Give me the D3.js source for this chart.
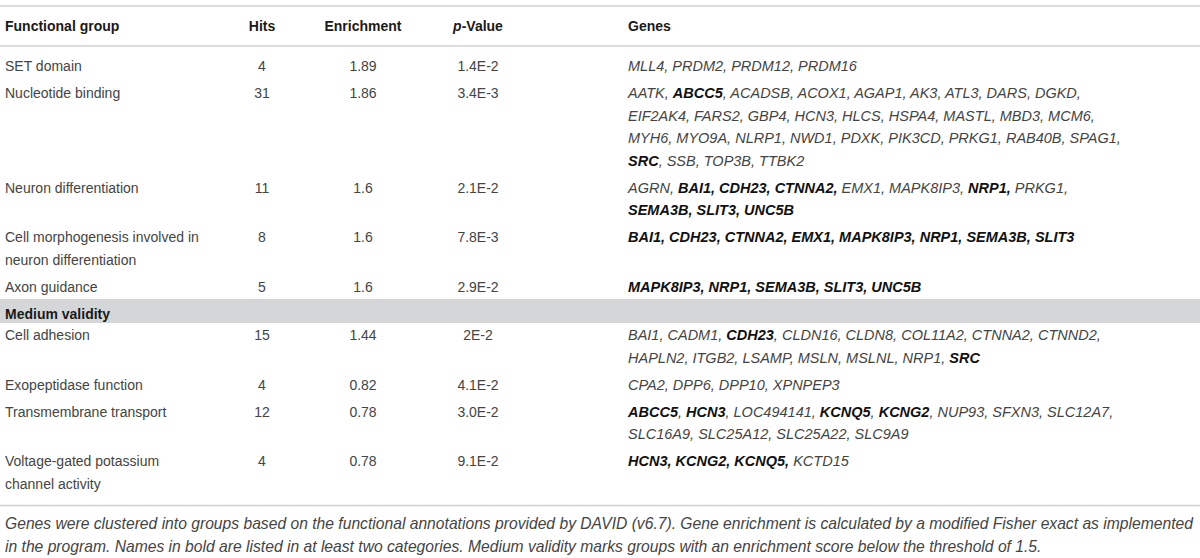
<!DOCTYPE html>
<html>
    <head>
        <meta charset="utf-8">
        <script src="https://d3js.org/d3.v7.min.js"></script>
        <style>
            body { margin: 0; background: #fff; }
            text { font-family: "Liberation Sans", Arial, Helvetica, sans-serif; font-size: 14px; }
        </style>
    </head>
    <body>
        <div id="table"></div>
        <script>
            // table content
            const headers = ["Functional group", "Hits", "Enrichment", "p-Value", "Genes"]

            const groups = [
                ["SET domain"],
                ["Nucleotide binding"],
                ["Neuron differentiation"],
                ["Cell morphogenesis involved in", "neuron differentiation"],
                ["Axon guidance"],
                ["Cell adhesion"],
                ["Exopeptidase function"],
                ["Transmembrane transport"],
                ["Voltage-gated potassium", "channel activity"]
            ]
            const hits = [4, 31, 11, 8, 5, 15, 4, 12, 4]
            const enrichment = ["1.89", "1.86", "1.6", "1.6", "1.6", "1.44", "0.82", "0.78", "0.78"]
            const pValues = ["1.4E-2", "3.4E-3", "2.1E-2", "7.8E-3", "2.9E-2", "2E-2", "4.1E-2", "3.0E-2", "9.1E-2"]

            // *...* marks bold gene names (listed in at least two categories)
            const genes = [
                ["MLL4, PRDM2, PRDM12, PRDM16"],
                ["AATK, *ABCC5*, ACADSB, ACOX1, AGAP1, AK3, ATL3, DARS, DGKD,",
                 "EIF2AK4, FARS2, GBP4, HCN3, HLCS, HSPA4, MASTL, MBD3, MCM6,",
                 "MYH6, MYO9A, NLRP1, NWD1, PDXK, PIK3CD, PRKG1, RAB40B, SPAG1,",
                 "*SRC*, SSB, TOP3B, TTBK2"],
                ["AGRN, *BAI1, CDH23, CTNNA2,* EMX1, MAPK8IP3, *NRP1,* PRKG1,",
                 "*SEMA3B, SLIT3, UNC5B*"],
                ["*BAI1, CDH23, CTNNA2, EMX1, MAPK8IP3, NRP1, SEMA3B, SLIT3*"],
                ["*MAPK8IP3, NRP1, SEMA3B, SLIT3, UNC5B*"],
                ["BAI1, CADM1, *CDH23*, CLDN16, CLDN8, COL11A2, CTNNA2, CTNND2,",
                 "HAPLN2, ITGB2, LSAMP, MSLN, MSLNL, NRP1, *SRC*"],
                ["CPA2, DPP6, DPP10, XPNPEP3"],
                ["*ABCC5*, *HCN3*, LOC494141, *KCNQ5*, *KCNG2*, NUP93, SFXN3, SLC12A7,",
                 "SLC16A9, SLC25A12, SLC25A22, SLC9A9"],
                ["*HCN3, KCNG2, KCNQ5,* KCTD15"]
            ]

            const sectionLabel = "Medium validity"
            const sectionBefore = 5   // section band sits above this row

            const footnote = [
                "Genes were clustered into groups based on the functional annotations provided by DAVID (v6.7). Gene enrichment is calculated by a modified Fisher exact as implemented",
                "in the program. Names in bold are listed in at least two categories. Medium validity marks groups with an enrichment score below the threshold of 1.5."
            ]

            // layout
            width = 1200
            height = 558
            lineH = 22.5
            rowExtra = 27
            bandGap = 21.5
            colX = [5, 262, 363, 478, 628]
            colAnchor = ["start", "middle", "middle", "middle", "start"]
            textColor = "#444"

            const svg = d3.select("#table")
                .append("svg")
                .attr("width", width)
                .attr("height", height)
                .attr("viewBox", [0, 0, width, height])

            const rule = y => svg.append("line")
                .attr("x1", 0).attr("x2", width)
                .attr("y1", y).attr("y2", y)
                .attr("stroke", "#d0d0d0")
                .attr("stroke-width", 1.5)

            // header
            rule(6)
            const head = svg.append("g")
                .attr("font-weight", "bold")
                .attr("fill", "#1a1a1a")
            headers.forEach((h, i) => {
                const t = head.append("text")
                    .attr("x", colX[i])
                    .attr("y", 31)
                    .attr("text-anchor", colAnchor[i])
                if (h === "p-Value") {
                    t.append("tspan").attr("font-style", "italic").text("p")
                    t.append("tspan").text("-Value")
                } else t.text(h)
            })
            rule(46)

            // row baselines: each row is as tall as its tallest cell
            const nLines = groups.map((g, i) => Math.max(g.length, genes[i].length))
            const rowY = []
            let y = 71
            nLines.forEach((n, i) => {
                if (i === sectionBefore) y += bandGap
                rowY.push(y)
                y += lineH * (n - 1) + rowExtra
            })

            // section band
            const bandBase = rowY[sectionBefore] - bandGap
            svg.append("rect")
                .attr("x", 0)
                .attr("y", bandBase - 19.5)
                .attr("width", width)
                .attr("height", 24)
                .attr("fill", "#d5d6d8")
            svg.append("text")
                .attr("x", colX[0])
                .attr("y", bandBase)
                .attr("font-weight", "bold")
                .attr("fill", "#1a1a1a")
                .text(sectionLabel)

            const body = svg.append("g").attr("fill", textColor)

            groups.forEach((g, i) => {
                g.forEach((line, k) => {
                    body.append("text")
                        .attr("x", colX[0])
                        .attr("y", rowY[i] + k * lineH)
                        .text(line)
                })
                ;[hits[i], enrichment[i], pValues[i]].forEach((v, c) => {
                    body.append("text")
                        .attr("x", colX[c + 1])
                        .attr("y", rowY[i])
                        .attr("text-anchor", "middle")
                        .text(v)
                })
                genes[i].forEach((line, k) => {
                    body.append("text")
                        .attr("x", colX[4])
                        .attr("y", rowY[i] + k * lineH)
                        .attr("font-style", "italic")
                        .style("font-size", "14.5px")
                        .selectAll("tspan")
                        .data(line.split("*").map((s, j) => ({s, bold: j % 2 === 1})).filter(d => d.s))
                        .join("tspan")
                        .attr("font-weight", d => d.bold ? "bold" : null)
                        .attr("fill", d => d.bold ? "#111" : null)
                        .text(d => d.s)
                })
            })

            // bottom rule + footnote
            const lastY = rowY[rowY.length - 1] + lineH * (nLines[nLines.length - 1] - 1)
            const ruleY = lastY + 17
            rule(ruleY)
            const notes = svg.append("g")
                .attr("font-style", "italic")
                .attr("fill", textColor)
                .selectAll("text")
                .data(footnote)
                .join("text")
                .attr("x", colX[0])
                .attr("y", (d, i) => ruleY + 23 + i * 23)
                .text(d => d)
            // the note's first line runs the full width of the table
            const w0 = notes.node().getComputedTextLength()
            notes.style("font-size", (14 * 1188 / w0).toFixed(2) + "px")
        </script>
    </body>
</html>
